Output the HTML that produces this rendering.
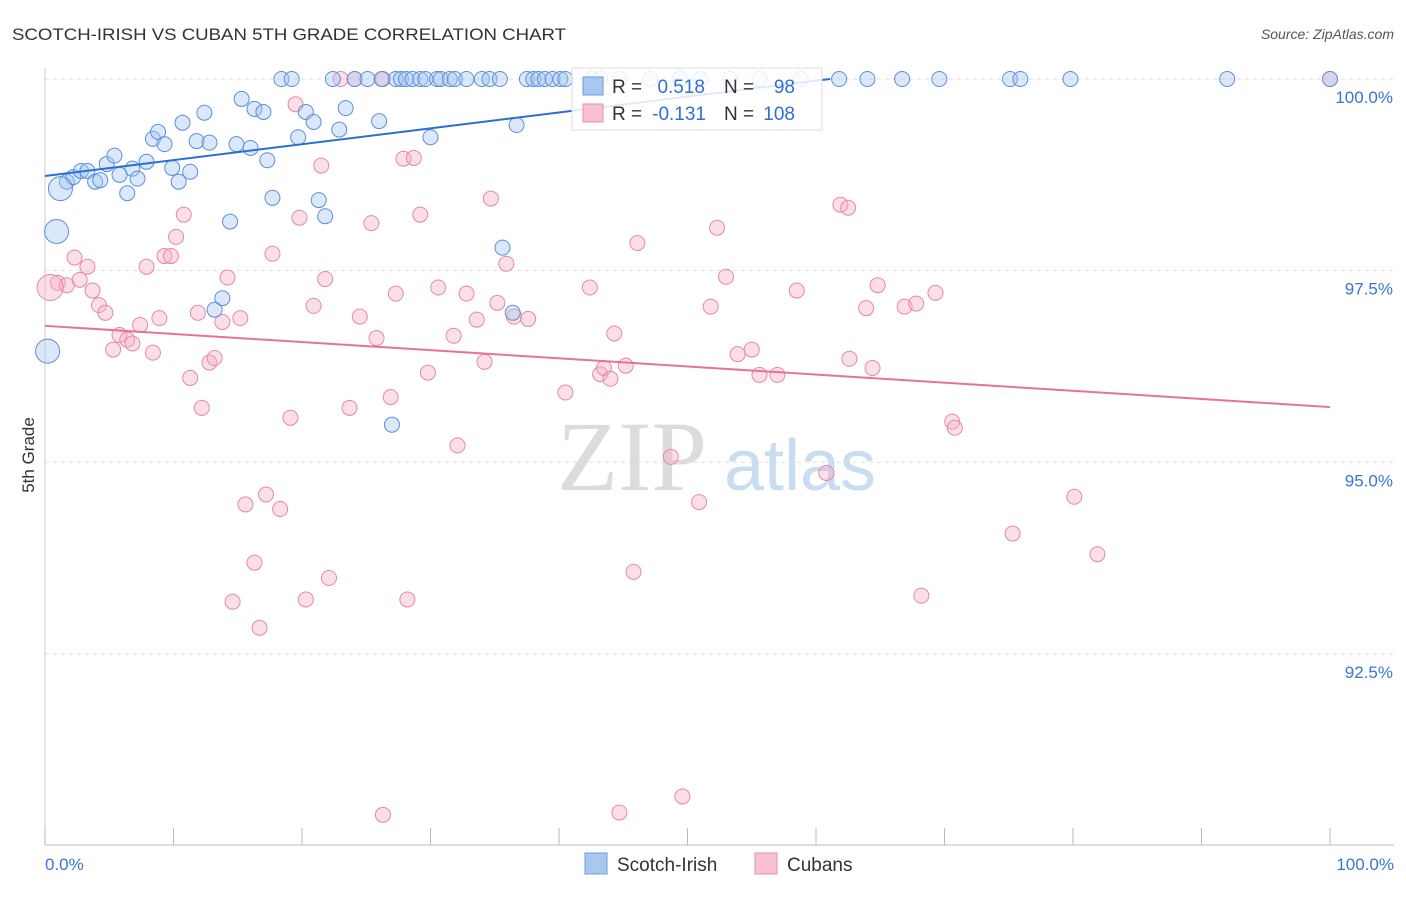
<!DOCTYPE html>
<html><head><meta charset="utf-8">
<style>
body{margin:0;background:#fff;font-family:"Liberation Sans",sans-serif;}
svg text{font-family:"Liberation Sans",sans-serif;}
</style></head>
<body>
<svg id="chart" width="1406" height="892" xmlns="http://www.w3.org/2000/svg">
<text x="12" y="40" font-size="17" fill="#333" textLength="554" lengthAdjust="spacingAndGlyphs">SCOTCH-IRISH VS CUBAN 5TH GRADE CORRELATION CHART</text>
<text x="1394" y="39" font-size="14" fill="#555" font-style="italic" text-anchor="end">Source: ZipAtlas.com</text>
<text x="34" y="455" font-size="17" fill="#333" text-anchor="middle" transform="rotate(-90 34 455)">5th Grade</text>
<g>
<text x="632" y="490" font-size="100" fill="#dcdcdc" text-anchor="middle" style="font-family:'Liberation Serif',serif">ZIP</text>
<text x="800" y="490" font-size="72" fill="#c8dcf2" text-anchor="middle">atlas</text>
</g>
<g id="grid"></g>
<g id="axes"></g>
<g id="pts"></g>
<g id="trend"></g>
<g>
<rect x="572" y="68" width="250" height="62" fill="#fff" fill-opacity="0.85" stroke="#ddd"/>
<rect x="583" y="77" width="20" height="18" fill="#a9c8f0" stroke="#6a9be0"/>
<text x="612" y="93" font-size="19" fill="#333">R =</text>
<text x="705" y="93" font-size="19" fill="#2f6fd6" text-anchor="end">0.518</text>
<text x="724" y="93" font-size="19" fill="#333">N =</text>
<text x="795" y="93" font-size="19" fill="#2f6fd6" text-anchor="end">98</text>
<rect x="583" y="104" width="20" height="18" fill="#f7c0d0" stroke="#e890aa"/>
<text x="612" y="120" font-size="19" fill="#333">R =</text>
<text x="706" y="120" font-size="19" fill="#2f6fd6" text-anchor="end">-0.131</text>
<text x="724" y="120" font-size="19" fill="#333">N =</text>
<text x="795" y="120" font-size="19" fill="#2f6fd6" text-anchor="end">108</text>
</g>
<g>
<rect x="585" y="853" width="22" height="21" fill="#a9c8f0" stroke="#6a9be0"/>
<text x="617" y="871" font-size="19" fill="#333">Scotch-Irish</text>
<rect x="755" y="853" width="22" height="21" fill="#f7c0d0" stroke="#e890aa"/>
<text x="787" y="871" font-size="19" fill="#333">Cubans</text>
</g>
</svg>
<script>
const yTicks=[100,97.5,95,92.5];
const yTickLabels=["100.0%","97.5%","95.0%","92.5%"];
const xTickLabels=["0.0%","100.0%"];
const blueBig=[[1.2,98.57],[0.9,98.01],[0.2,96.45]];
const bluePts=[[1.7,98.66],[2.2,98.72],[2.8,98.80],[3.3,98.80],[3.9,98.66],[4.3,98.68],[4.8,98.89],[5.4,99.0],[5.8,98.75],[6.4,98.51],[6.8,98.83],[7.2,98.70],[7.9,98.92],[8.4,99.22],[8.8,99.31],[9.3,99.15],[9.9,98.84],[10.4,98.66],[10.7,99.43],[11.3,98.79],[11.8,99.19],[12.4,99.56],[12.8,99.17],[14.4,98.14],[14.9,99.15],[15.3,99.74],[16.0,99.10],[16.3,99.61],[17.0,99.57],[17.3,98.94],[17.7,98.45],[18.4,100],[19.2,100],[19.7,99.24],[20.3,99.57],[20.9,99.44],[21.3,98.42],[21.8,98.21],[22.4,100],[22.9,99.34],[23.4,99.62],[24.1,100],[25.1,100],[26.0,99.45],[26.2,100],[27.3,100],[27.7,100],[28.1,100],[28.6,100],[29.2,100],[29.6,100],[30.0,99.24],[30.5,100],[30.8,100],[31.5,100],[31.9,100],[32.8,100],[34.0,100],[34.6,100],[35.4,100],[35.6,97.80],[36.7,99.40],[37.5,100],[38.0,100],[38.4,100],[38.9,100],[39.5,100],[40.1,100],[40.5,100],[42.6,100],[43.2,100],[44.7,100],[47.1,100],[49.4,100],[51.0,100],[53.3,100],[55.6,100],[58.8,100],[61.8,100],[64.0,100],[66.7,100],[69.6,100],[75.1,100],[75.9,100],[79.8,100],[92.0,100],[100,100],[13.8,97.14],[13.2,96.99],[36.4,96.95],[27.0,95.49]];
const pinkBig=[[0.4,97.28]];
const pinkPts=[[1.0,97.34],[1.7,97.31],[2.3,97.67],[2.7,97.38],[3.3,97.55],[3.7,97.24],[4.2,97.05],[4.7,96.95],[5.3,96.47],[5.8,96.66],[6.4,96.60],[6.8,96.55],[7.4,96.79],[7.9,97.55],[8.4,96.43],[8.9,96.88],[9.3,97.69],[9.8,97.69],[10.2,97.94],[10.8,98.23],[11.3,96.10],[11.9,96.95],[12.2,95.71],[12.8,96.30],[13.2,96.36],[13.8,96.83],[14.2,97.41],[14.6,93.18],[15.2,96.88],[15.6,94.45],[16.3,93.69],[16.7,92.84],[17.2,94.58],[17.7,97.72],[18.3,94.39],[19.1,95.58],[19.5,99.67],[19.8,98.19],[20.3,93.21],[20.9,97.04],[21.5,98.87],[21.8,97.39],[22.1,93.49],[23.0,100],[23.7,95.71],[24.1,100],[24.5,96.90],[25.4,98.12],[25.8,96.62],[26.3,100],[26.3,90.40],[26.9,95.85],[27.3,97.20],[27.9,98.96],[28.2,93.21],[28.7,98.97],[29.2,98.23],[29.8,96.17],[30.6,97.28],[31.8,96.65],[32.1,95.22],[32.8,97.20],[33.6,96.86],[34.2,96.31],[34.7,98.44],[35.2,97.08],[35.9,97.59],[36.5,96.90],[37.6,96.87],[40.5,95.91],[42.4,97.28],[43.2,96.15],[43.5,96.23],[44.0,96.09],[44.3,96.68],[44.7,90.43],[45.2,96.26],[45.8,93.57],[46.1,97.86],[48.7,95.07],[49.6,90.64],[50.9,94.48],[51.8,97.03],[52.3,98.06],[53.0,97.42],[53.9,96.41],[55.0,96.47],[55.6,96.14],[57.0,96.14],[58.5,97.24],[60.8,94.86],[61.9,98.36],[62.5,98.32],[62.6,96.35],[63.9,97.01],[64.4,96.23],[64.8,97.31],[66.9,97.03],[67.8,97.07],[68.2,93.26],[69.3,97.21],[70.6,95.53],[70.8,95.45],[75.3,94.07],[80.1,94.55],[81.9,93.80],[100,100]];
const blueTrend=[0,98.735,61.1,100];
const pinkTrend=[0,96.78,100,95.72];

const NS="http://www.w3.org/2000/svg";
const X=v=>45+v*12.85;
const Y=v=>79+(100-v)*76.65;
function mk(tag,attrs,parent){const e=document.createElementNS(NS,tag);for(const k in attrs)e.setAttribute(k,attrs[k]);parent.appendChild(e);return e;}
const grid=document.getElementById('grid'),axes=document.getElementById('axes'),pts=document.getElementById('pts'),trend=document.getElementById('trend');
yTicks.forEach((t,i)=>{
  const l=mk('line',{x1:45,x2:1394,y1:Y(t),y2:Y(t),stroke:'#ddd','stroke-dasharray':'4,4'},grid);
  
  
  const tx=mk('text',{x:1393,y:Y(t)+24,'font-size':17,fill:'#3b74d6','text-anchor':'end'},axes);
  tx.textContent=yTickLabels[i];
  
  
});
let ax=mk('line',{x1:45,x2:1394,y1:845,y2:845,stroke:'#bbb'},axes);


let ay=mk('line',{x1:45,x2:45,y1:68,y2:845,stroke:'#ccc'},axes);


for(let k=0;k<=10;k++){
  const t=mk('line',{x1:X(k*10),x2:X(k*10),y1:828,y2:845,stroke:'#bbb'},axes);
  
  
}
[[0,'start',45],[100,'end',1394]].forEach((d,i)=>{
  const tx=mk('text',{x:d[2],y:870,'font-size':17,fill:'#3b74d6','text-anchor':d[1]},axes);
  tx.textContent=xTickLabels[i];
  
  
});
function dots(arr,r,fill,stroke,name){
  arr.forEach(p=>{
    const c=mk('circle',{cx:X(p[0]),cy:Y(p[1]),r:r,fill:fill,'fill-opacity':0.4,stroke:stroke,'stroke-width':1},pts);
    
    
  });
}
dots(pinkPts,7.5,'#f4b0c6','#e8889f','cubans-point');
dots(pinkBig,13,'#f4b0c6','#e8889f','cubans-point');
dots(bluePts,7.5,'#a6c6f0','#5a8fdc','scotch-irish-point');
dots(blueBig,12,'#a6c6f0','#5a8fdc','scotch-irish-point');
const bl=mk('line',{x1:X(blueTrend[0]),y1:Y(blueTrend[1]),x2:X(blueTrend[2]),y2:Y(blueTrend[3]),stroke:'#2a6fd8','stroke-width':2},trend);


const pl=mk('line',{x1:X(pinkTrend[0]),y1:Y(pinkTrend[1]),x2:X(pinkTrend[2]),y2:Y(pinkTrend[3]),stroke:'#e8709a','stroke-width':2},trend);


</script>
</body></html>
